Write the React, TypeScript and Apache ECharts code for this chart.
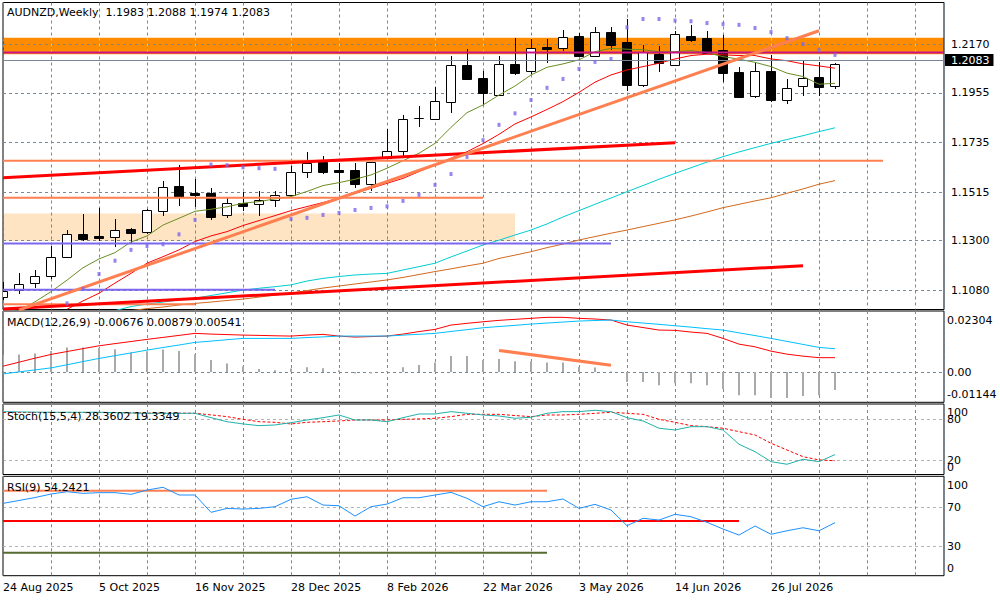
import React, { useEffect, useRef } from "react";
import * as echarts from "echarts";

// ---------------- data ----------------
const dateLabels = ["24 Aug 2025", "5 Oct 2025", "16 Nov 2025", "28 Dec 2025", "8 Feb 2026", "22 Mar 2026", "3 May 2026", "14 Jun 2026", "26 Jul 2026"];
const priceTicks = [1.217, 1.1955, 1.1735, 1.1515, 1.13, 1.108];
const macdTicks = [0.02304, 0, -0.01144];
const stochTicks = [100, 80, 20, 0];
const rsiTicks = [100, 70, 30, 0];

const opens = [1.1049, 1.1081, 1.1111, 1.1145, 1.1229, 1.1329, 1.1321, 1.1317, 1.1352, 1.1337, 1.1433, 1.1542, 1.1510, 1.1512, 1.1412, 1.1468, 1.1461, 1.1479, 1.1502, 1.1603, 1.1647, 1.1612, 1.1612, 1.1550, 1.1665, 1.1696, 1.1842, 1.1840, 1.1916, 1.2078, 1.2021, 1.1945, 1.2083, 1.2053, 1.2158, 1.2152, 1.2207, 1.2120, 1.2223, 1.2179, 1.1990, 1.2127, 1.2078, 1.2207, 1.2199, 1.2145, 1.2047, 1.1942, 1.2052, 1.1925, 1.1987, 1.2025, 1.1983];
const highs = [1.1118, 1.1155, 1.1170, 1.1276, 1.1347, 1.1419, 1.1446, 1.1396, 1.1355, 1.1440, 1.1564, 1.1635, 1.1573, 1.1535, 1.1495, 1.1517, 1.1520, 1.1521, 1.1632, 1.1693, 1.1675, 1.1645, 1.1643, 1.1650, 1.1796, 1.1857, 1.1897, 1.1982, 1.2120, 1.2149, 1.2052, 1.2118, 1.2199, 1.2194, 1.2194, 1.2233, 1.2221, 1.2245, 1.2245, 1.2282, 1.2167, 1.2164, 1.2229, 1.2256, 1.2229, 1.2211, 1.2071, 1.2087, 1.2123, 1.2016, 1.2100, 1.2090, 1.2088];
const lows = [1.1037, 1.1064, 1.1089, 1.1129, 1.1222, 1.1300, 1.1300, 1.1273, 1.1291, 1.1329, 1.1411, 1.1455, 1.1448, 1.1392, 1.1402, 1.1431, 1.1411, 1.1450, 1.1495, 1.1576, 1.1595, 1.1521, 1.1535, 1.1521, 1.1662, 1.1672, 1.1805, 1.1839, 1.1867, 1.2012, 1.1901, 1.1942, 1.2034, 1.2039, 1.2089, 1.2142, 1.2116, 1.2116, 1.2145, 1.1963, 1.1982, 1.2049, 1.2076, 1.2182, 1.2129, 1.2004, 1.1935, 1.1933, 1.1916, 1.1907, 1.1942, 1.1942, 1.1974];
const closes = [1.1077, 1.1107, 1.1142, 1.1226, 1.1329, 1.1307, 1.1313, 1.1347, 1.1335, 1.1435, 1.1536, 1.1495, 1.1501, 1.1406, 1.1466, 1.1455, 1.1480, 1.1502, 1.1603, 1.1645, 1.1603, 1.1606, 1.1550, 1.1647, 1.1697, 1.1839, 1.1843, 1.1919, 1.2078, 1.2018, 1.1953, 1.2083, 1.2044, 1.2152, 1.2150, 1.2201, 1.2120, 1.2223, 1.2168, 1.1990, 1.2137, 1.2086, 1.2216, 1.2189, 1.2133, 1.2044, 1.1937, 1.2052, 1.1923, 1.1976, 1.2021, 1.1982, 1.2083];

const maFast = [null, 1.0988, 1.1029, 1.1074, 1.1125, 1.1180, 1.1219, 1.1247, 1.1294, 1.1321, 1.1369, 1.1399, 1.1430, 1.1439, 1.1450, 1.1466, 1.1473, 1.1485, 1.1495, 1.1518, 1.1544, 1.1557, 1.1572, 1.1591, 1.1621, 1.1654, 1.1687, 1.1731, 1.1802, 1.1867, 1.1901, 1.1945, 1.1985, 1.2034, 1.2068, 1.2083, 1.2101, 1.2137, 1.2152, 1.2148, 1.2146, 1.2137, 1.2137, 1.2142, 1.2133, 1.2115, 1.2104, 1.2090, 1.2071, 1.2042, 1.2027, 1.1993, 1.1997];
const maMid = [null, null, null, null, 1.0996, 1.1033, 1.1067, 1.1112, 1.1155, 1.1200, 1.1229, 1.1259, 1.1296, 1.1321, 1.1340, 1.1367, 1.1389, 1.1411, 1.1433, 1.1451, 1.1469, 1.1488, 1.1509, 1.1532, 1.1554, 1.1576, 1.1606, 1.1635, 1.1665, 1.1694, 1.1730, 1.1771, 1.1817, 1.1848, 1.1881, 1.1916, 1.1957, 1.2002, 1.2034, 1.2056, 1.2071, 1.2086, 1.2105, 1.2120, 1.2126, 1.2123, 1.2120, 1.2120, 1.2105, 1.2097, 1.2083, 1.2074, 1.2064];
const maSlow = [null, null, null, null, null, null, null, 1.0990, 1.1008, 1.1019, 1.1028, 1.1037, 1.1045, 1.1057, 1.1069, 1.1081, 1.1089, 1.1096, 1.1104, 1.1121, 1.1133, 1.1141, 1.1148, 1.1152, 1.1155, 1.1170, 1.1185, 1.1200, 1.1228, 1.1254, 1.1281, 1.1302, 1.1325, 1.1347, 1.1374, 1.1405, 1.1433, 1.1461, 1.1489, 1.1517, 1.1544, 1.1572, 1.1598, 1.1623, 1.1648, 1.1672, 1.1693, 1.1712, 1.1731, 1.1748, 1.1765, 1.1783, 1.1800];
const maLong = [null, null, null, null, null, null, null, null, 1.0990, 1.0999, 1.1006, 1.1015, 1.1022, 1.1028, 1.1035, 1.1041, 1.1050, 1.1059, 1.1067, 1.1079, 1.1090, 1.1099, 1.1108, 1.1117, 1.1126, 1.1137, 1.1150, 1.1163, 1.1175, 1.1188, 1.1200, 1.1221, 1.1236, 1.1251, 1.1269, 1.1285, 1.1303, 1.1318, 1.1333, 1.1347, 1.1362, 1.1377, 1.1392, 1.1409, 1.1427, 1.1446, 1.1461, 1.1476, 1.1490, 1.1510, 1.1529, 1.1550, 1.1566];
const sar = [null, null, null, null, 1.1022, 1.1086, 1.1152, 1.1211, 1.1259, 1.1276, 1.1284, 1.1328, 1.1392, 1.1637, 1.1634, 1.1625, 1.1621, 1.1618, 1.1396, 1.1401, 1.1414, 1.1423, 1.1436, 1.1445, 1.1452, 1.1476, 1.1503, 1.1547, 1.1595, 1.1671, 1.1745, 1.1813, 1.1864, 1.1923, 1.1977, 1.2016, 1.2061, 1.2092, 1.2105, 1.2245, 1.2282, 1.2282, 1.2275, 1.2272, 1.2264, 1.2259, 1.2256, 1.2242, 1.2224, 1.2197, 1.2171, 1.2145, 1.2123];

const macdHist = [0.0064, 0.0066, 0.0070, 0.0079, 0.0093, 0.0093, 0.0091, 0.0086, 0.0074, 0.0078, 0.0085, 0.0079, 0.0067, 0.0045, 0.0032, 0.0022, 0.0011, 0.0007, 0.0013, 0.0018, 0.0014, 0.0007, -0.0006, -0.0006, 0.0004, 0.0018, 0.0026, 0.0036, 0.0060, 0.0060, 0.0045, 0.0049, 0.0041, 0.0041, 0.0036, 0.0036, 0.0019, 0.0017, 0.0002, -0.0038, -0.0038, -0.0050, -0.0042, -0.0042, -0.0050, -0.0064, -0.0088, -0.0088, -0.0098, -0.0098, -0.0091, -0.0088, -0.00676];
const macdMain = [-0.00072, 0.00004, 0.0008, 0.00155, 0.00273, 0.00394, 0.00512, 0.00618, 0.0072, 0.00826, 0.00925, 0.01019, 0.01118, 0.01167, 0.0122, 0.01269, 0.01269, 0.01269, 0.01269, 0.013, 0.01326, 0.01357, 0.01357, 0.01357, 0.01357, 0.01394, 0.01425, 0.01459, 0.01531, 0.01599, 0.01671, 0.01717, 0.01762, 0.01811, 0.01849, 0.01887, 0.01925, 0.01944, 0.01963, 0.01898, 0.01849, 0.018, 0.01747, 0.01694, 0.01637, 0.01584, 0.01478, 0.01376, 0.01269, 0.01156, 0.01042, 0.00928, 0.00879];
const macdSignal = [0.0022, 0.00371, 0.00523, 0.00663, 0.00773, 0.00883, 0.00989, 0.01072, 0.01152, 0.01232, 0.01307, 0.01383, 0.01459, 0.01432, 0.01413, 0.01394, 0.01383, 0.01368, 0.01357, 0.01394, 0.01421, 0.01357, 0.01319, 0.01338, 0.01357, 0.01432, 0.01527, 0.0161, 0.01773, 0.01838, 0.01898, 0.01951, 0.01989, 0.02027, 0.02065, 0.02065, 0.02027, 0.02001, 0.01963, 0.01773, 0.01679, 0.01584, 0.01573, 0.01508, 0.01459, 0.01269, 0.01053, 0.00951, 0.00788, 0.00674, 0.00599, 0.00541, 0.00541];
const stochMain = [91.2, 90.8, 90.5, 90.3, 90.3, 90.3, 90.3, 89.8, 89.3, 88.8, 88.8, 88.8, 88.8, 82.4, 76.5, 73.2, 70.7, 71.7, 75.1, 79, 82.4, 86.3, 79, 79, 76.5, 82.4, 87.8, 87.8, 91.2, 88.8, 86.3, 84.9, 81.5, 83, 88.8, 91.2, 91.2, 93.2, 91.2, 82.4, 77.6, 66.9, 64.4, 69.2, 69.2, 64.4, 43.5, 32.6, 18, 14.2, 21.5, 18, 28.36];
const stochSignal = [90, 90, 90, 90, 90, 90, 90, 90, 89.5, 89, 89, 89, 88.8, 86.5, 83.9, 80, 76.5, 75.6, 73.2, 75.6, 76.5, 77.6, 79, 79, 79, 80, 80.5, 81.5, 83.9, 87.3, 87.3, 87.3, 85.5, 83.9, 86.3, 86.3, 87.3, 88.8, 90.3, 88.8, 87.3, 80, 75.6, 70.7, 69.2, 66.9, 61.9, 57.1, 44.9, 35.1, 25.3, 20.5, 19.33];
const rsi = [74, 77, 80, 83.6, 86, 84.3, 85, 85, 83.3, 87.7, 90.5, 82.6, 82.6, 64.8, 68.9, 68.2, 68.9, 70.6, 78.2, 80.8, 72.3, 71.6, 61, 70.6, 73.3, 79.8, 79.8, 82.6, 85.3, 79.2, 70.6, 75.7, 72.3, 75.7, 75.7, 78.5, 68.9, 73, 67.2, 51.1, 58.7, 56.9, 62.8, 60.3, 54.6, 47.7, 41.5, 50.8, 42.3, 45.9, 49, 45.9, 54.24];
const stochLast = ["28.3602", "19.3349"];
const rsiLast = "54.2421";

// chart objects: zones [fromIndex, toIndex, high, low]; levels [fromIndex, toIndex, level]
const resistanceZone = [0, 58.8, 1.2199, 1.2126];
const demandZone = [0, 32, 1.142, 1.1298];
const magentaLevels = [[0, 58.8, 1.2134]];
const coralLevels = [[0, 55, 1.1654], [0, 30, 1.149], [0, 12, 1.1018]];
const purpleLevels = [[0, 38, 1.1287], [0, 17, 1.1083]];
// trend lines: [x1, y1, x2, y2]
const redTrends = [[0, 1.1579, 42, 1.1734], [0, 1.0997, 50, 1.1189]];
const coralTrends = [[1, 1.0993, 51, 1.223]];
const macdTrends = [[31, 0.00815, 38, 0.00258]];
const rsiCoral = [[0, 34, 87]];
const rsiRed = [[0, 46, 56]];
const rsiOlive = [[0, 34, 23.4]];

// ---------------- layout ----------------
const GL = 3;
const GR = 944;
const XMAX = (GR - GL) / 16;
const XSTEP = 3;
const FONT = '"DejaVu Sans", sans-serif';
const panels = [
  { top: 2.5, bottom: 309.5, min: 1.0995, max: 1.2355 },
  { top: 311, bottom: 402.3, min: -0.01144, max: 0.02304 },
  { top: 404, bottom: 474.5, min: -0.8, max: 102.4 },
  { top: 476.3, bottom: 575.7, min: -0.2, max: 101.8 },
];
const yPix = (p: number, v: number) => {
  const P = panels[p];
  return P.top + ((P.max - v) / (P.max - P.min)) * (P.bottom - P.top);
};

const pts = (arr: (number | null)[]) =>
  arr.map((v, i) => (v == null ? null : [i, v])).filter((d) => d !== null);

function lineS(data: any[], color: string, width: number, g: number, z: number, type: any = "solid") {
  return {
    type: "line",
    data,
    xAxisIndex: g,
    yAxisIndex: g,
    showSymbol: false,
    symbol: "none",
    silent: true,
    z,
    lineStyle: { color, width, type },
  };
}
const levelSeries = (lv: number[][], color: string, width: number, g: number, z: number) =>
  lv.map((l) => lineS([[l[0], l[2]], [l[1], l[2]]], color, width, g, z));
const trendSeries = (tr: number[][], color: string, width: number, g: number, z: number) =>
  tr.map((t) => lineS([[t[0], t[1]], [t[2], t[3]]], color, width, g, z));

function renderCandle(_p: any, api: any) {
  const i = api.value(0);
  const o = api.value(1);
  const c = api.value(2);
  const l = api.value(3);
  const h = api.value(4);
  const pO = api.coord([i, o]);
  const pC = api.coord([i, c]);
  const pL = api.coord([i, l]);
  const pH = api.coord([i, h]);
  const xc = Math.round(pO[0]) + 0.5;
  const yTop = Math.round(Math.min(pO[1], pC[1])) + 0.5;
  const yBot = Math.round(Math.max(pO[1], pC[1])) + 0.5;
  const bull = c >= o;
  return {
    type: "group",
    children: [
      { type: "line", shape: { x1: xc, y1: Math.round(pH[1]), x2: xc, y2: Math.round(pL[1]) }, style: { stroke: "#000", lineWidth: 1 } },
      { type: "rect", shape: { x: xc - 5, y: yTop, width: 9, height: Math.max(yBot - yTop, 0) }, style: { fill: bull ? "#fff" : "#000", stroke: "#000", lineWidth: 1 } },
    ],
  };
}

function renderHist(_p: any, api: any) {
  const i = api.value(0);
  const v = api.value(1);
  const p0 = api.coord([i, 0]);
  const p1 = api.coord([i, v]);
  return {
    type: "rect",
    shape: { x: Math.round(p0[0]) - 1, y: Math.min(p0[1], p1[1]), width: 2, height: Math.abs(p1[1] - p0[1]) },
    style: { fill: "#A9A9A9" },
  };
}

function zoneSeries(z: number[], color: string) {
  return {
    type: "custom",
    xAxisIndex: 0,
    yAxisIndex: 0,
    z: -1,
    silent: true,
    clip: true,
    data: [[z[0], z[2], z[1], z[3]]],
    encode: { x: [0, 2], y: [1, 3] },
    renderItem: (_p: any, api: any) => {
      const a = api.coord([api.value(0), api.value(1)]);
      const b = api.coord([api.value(2), api.value(3)]);
      return { type: "rect", shape: { x: a[0], y: a[1], width: b[0] - a[0], height: b[1] - a[1] }, style: { fill: color } };
    },
  };
}

// grid lines seen through the orange zone take a yellow-green tint
function zoneGridSeries(z: number[]) {
  const xs: number[][] = [];
  for (let x = XSTEP; x < XMAX; x += XSTEP) xs.push([x, z[2], z[3]]);
  return {
    type: "custom",
    xAxisIndex: 0,
    yAxisIndex: 0,
    z: 0.5,
    silent: true,
    clip: true,
    data: xs,
    encode: { x: 0, y: [1, 2] },
    renderItem: (_p: any, api: any) => {
      const a = api.coord([api.value(0), api.value(1)]);
      const b = api.coord([api.value(0), api.value(2)]);
      const x = Math.round(a[0]) + 0.5;
      return { type: "line", shape: { x1: x, y1: a[1], x2: x, y2: b[1] }, style: { stroke: "#C8F040", lineWidth: 1, lineDash: [3, 3] } };
    },
  };
}

function txt(text: string, x: number, y: number, extra: any = {}) {
  return {
    type: "text",
    x,
    y,
    z: 100,
    silent: true,
    style: { text, fill: "#000", font: `11px ${FONT}`, verticalAlign: "middle", align: "left", ...extra },
  };
}

function buildOption() {
  const grids = panels.map((p) => ({
    left: GL,
    width: GR - GL,
    top: p.top,
    height: p.bottom - p.top,
    show: true,
    borderColor: "#000",
    borderWidth: 1,
    backgroundColor: "transparent",
  }));
  const xAxes = panels.map((_p, g) => ({
    type: "value",
    gridIndex: g,
    min: 0,
    max: XMAX,
    interval: XSTEP,
    axisLine: { show: false },
    axisTick: { show: false },
    splitLine: { show: true, lineStyle: { color: "#778899", width: 1, type: [3, 3] } },
    axisLabel:
      g === 3
        ? {
            show: true,
            align: "left",
            margin: 6,
            color: "#000",
            fontSize: 11,
            fontFamily: FONT,
            showMaxLabel: false,
            formatter: (v: number) => {
              const k = Math.round(v);
              return k % 6 === 0 && dateLabels[k / 6] ? dateLabels[k / 6] : "";
            },
          }
        : { show: false },
  }));
  const levelVals = [priceTicks, [0], [20, 80], [30, 70]];
  const levelColors = ["#778899", "#778899", "#B4B4B4", "#B4B4B4"];
  const yAxes = panels.map((p, g) => ({
    type: "value",
    gridIndex: g,
    position: "right",
    min: p.min,
    max: p.max,
    axisLine: { show: false },
    axisTick: { show: false, customValues: levelVals[g] },
    axisLabel:
      g === 0
        ? { show: true, customValues: priceTicks, formatter: (v: number) => v.toFixed(4), color: "#000", fontSize: 11, fontFamily: FONT, margin: 7 }
        : { show: false },
    splitLine: { show: true, lineStyle: { color: levelColors[g], width: 1, type: [3, 3] } },
  }));

  const last = closes[closes.length - 1];
  const series: any[] = [
    zoneSeries(demandZone, "#FFE4C4"),
    zoneSeries(resistanceZone, "#FF8C00"),
    zoneGridSeries(resistanceZone),
    {
      type: "line",
      data: [],
      xAxisIndex: 0,
      yAxisIndex: 0,
      z: 1,
      silent: true,
      markLine: {
        silent: true,
        symbol: "none",
        animation: false,
        data: [{ yAxis: last }],
        lineStyle: { color: "#778899", width: 1, type: "solid" },
        label: {
          show: true,
          position: "end",
          distance: 1,
          formatter: last.toFixed(4),
          color: "#fff",
          backgroundColor: "#000",
          padding: [1, 4, 0, 6],
          fontSize: 11,
          fontFamily: FONT,
        },
      },
    },
    {
      type: "custom",
      xAxisIndex: 0,
      yAxisIndex: 0,
      z: 3,
      clip: true,
      silent: true,
      data: opens.map((o, i) => [i, o, closes[i], lows[i], highs[i]]),
      encode: { x: 0, y: [1, 2, 3, 4] },
      renderItem: renderCandle,
    },
    lineS(pts(maLong), "#D2691E", 1, 0, 4),
    lineS(pts(maSlow), "#00CED1", 1, 0, 4),
    lineS(pts(maMid), "#FF0000", 1, 0, 4),
    lineS(pts(maFast), "#6B8E23", 1, 0, 4),
    ...levelSeries(magentaLevels, "#C71585", 2, 0, 5),
    ...levelSeries(coralLevels, "#FF7F50", 2, 0, 5),
    ...levelSeries(purpleLevels, "#7B68EE", 2, 0, 5),
    ...trendSeries(redTrends, "#FF0000", 3, 0, 5),
    ...trendSeries(coralTrends, "#FF7F50", 3, 0, 5),
    {
      type: "scatter",
      xAxisIndex: 0,
      yAxisIndex: 0,
      z: 6,
      silent: true,
      symbol: "rect",
      symbolSize: [3, 4],
      itemStyle: { color: "#7B68EE" },
      data: pts(sar),
    },
    // MACD
    {
      type: "custom",
      xAxisIndex: 1,
      yAxisIndex: 1,
      z: 3,
      clip: true,
      silent: true,
      data: pts(macdHist),
      encode: { x: 0, y: 1 },
      renderItem: renderHist,
    },
    lineS(pts(macdSignal), "#FF0000", 1, 1, 4),
    lineS(pts(macdMain), "#00BFFF", 1, 1, 4),
    ...trendSeries(macdTrends, "#FF7F50", 3, 1, 5),
    // Stochastic
    lineS(pts(stochSignal), "#FF0000", 1, 2, 4, [3, 2]),
    lineS(pts(stochMain), "#20B2AA", 1, 2, 5),
    // RSI
    ...levelSeries(rsiCoral, "#FF7F50", 2, 3, 3),
    ...levelSeries(rsiRed, "#FF0000", 2, 3, 3),
    ...levelSeries(rsiOlive, "#556B2F", 2, 3, 3),
    lineS(pts(rsi), "#1E90FF", 1, 3, 4),
  ];

  const n = closes.length - 1;
  const fmtMacd = (v: number) => (v === 0 ? "0.00" : v.toFixed(5));
  const graphic: any[] = [
    txt(`AUDNZD,Weekly  ${opens[n].toFixed(4)} ${highs[n].toFixed(4)} ${lows[n].toFixed(4)} ${closes[n].toFixed(4)}`, 7, 12.5),
    txt(`MACD(12,26,9) ${macdHist[n].toFixed(5)} ${macdMain[n].toFixed(5)} ${macdSignal[n].toFixed(5)}`, 7, 322.5),
    txt(`Stoch(15,5,4) ${stochLast[0]} ${stochLast[1]}`, 7, 416),
    txt(`RSI(9) ${rsiLast}`, 7, 487),
  ];
  const insets = (ticks: number[], p: number, fmt: (v: number) => string, inTop: number, inBot: number) =>
    ticks.forEach((t, k) => {
      let y = yPix(p, t);
      if (k === 0) y = panels[p].top + inTop;
      if (k === ticks.length - 1) y = panels[p].bottom - inBot;
      graphic.push(txt(fmt(t), 947, y));
    });
  insets(macdTicks, 1, fmtMacd, 9, 7.5);
  insets(stochTicks, 2, (v) => String(v), 8.5, 7);
  insets(rsiTicks, 3, (v) => String(v), 9, 7.5);

  return {
    animation: false,
    backgroundColor: "#ffffff",
    grid: grids,
    xAxis: xAxes,
    yAxis: yAxes,
    series,
    graphic,
  };
}

export default function App() {
  const ref = useRef<HTMLDivElement | null>(null);
  useEffect(() => {
    if (!ref.current) return;
    const chart = echarts.init(ref.current, undefined, { renderer: "svg" });
    chart.setOption(buildOption() as any);
    return () => chart.dispose();
  }, []);
  return <div ref={ref} style={{ position: "absolute", left: 0, top: 0, width: 1000, height: 600 }} />;
}
